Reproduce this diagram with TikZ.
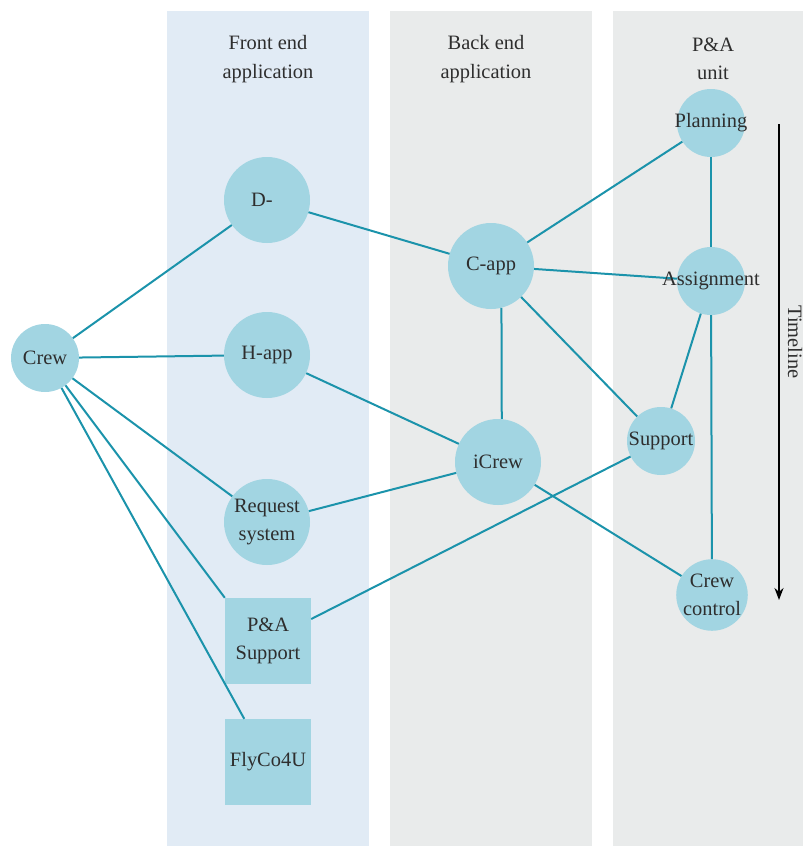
\documentclass[tikz,border=0pt]{standalone}
\usepackage{fontspec}
\setmainfont{Liberation Serif}
\usetikzlibrary{arrows.meta}
\definecolor{frontbg}{HTML}{E1EBF5}
\definecolor{backbg}{HTML}{E9EBEB}
\definecolor{nodefill}{HTML}{A2D5E2}
\definecolor{linkcol}{HTML}{1B93AB}
\definecolor{txt}{HTML}{2E2E2E}
\begin{document}
\begin{tikzpicture}[x=1bp,y=-1bp,
  every node/.style={font=\fontsize{20.5}{28.5}\selectfont, text=txt},
  bignode/.style={circle, fill=nodefill, minimum size=86bp, inner sep=0pt, align=center},
  smallnode/.style={circle, fill=nodefill, minimum size=68bp, inner sep=0pt, align=center},
  boxnode/.style={rectangle, fill=nodefill, minimum width=86bp, minimum height=86bp, inner sep=0pt, align=center},
  header/.style={align=center},
  link/.style={draw=linkcol, line width=2bp}]
\path[use as bounding box] (0,0) rectangle (803,846);
% column backgrounds
\fill[frontbg] (167,11) rectangle (369,846);
\fill[backbg] (390,11) rectangle (592,846);
\fill[backbg] (613,11) rectangle (803,846);
% column headers
\node[header] (hfront) at (268,59) {Front end\\application};
\node[header] (hback) at (486,59) {Back end\\application};
\node[header] (hpa) at (713,59) {P\&A\\unit};
% nodes
\node[smallnode] (crew) at (45,358) {Crew};
\node[bignode] (dapp) at (267,200) {D-\hspace*{10bp}};
\node[bignode] (happ) at (267,355) {H-app};
\node[bignode] (req) at (267,522) {Request\\system};
\node[boxnode] (pasup) at (268,641) {P\&A\\Support};
\node[boxnode] (flyco) at (268,762) {FlyCo4U};
\node[bignode] (capp) at (491,266) {C-app};
\node[bignode] (icrew) at (498,462) {iCrew};
\node[smallnode] (plan) at (711,123) {\makebox[0pt]{Planning}};
\node[smallnode] (assign) at (711,281) {};
\node[smallnode] (support) at (661,441) {\makebox[0pt]{Support}};
\node[smallnode] (crewctl) at (712,595) {Crew\\control};
% connectors
\draw[link] (crew) -- (dapp);
\draw[link] (crew) -- (happ);
\draw[link] (crew) -- (req);
\draw[link] (crew) -- (pasup.north west);
\draw[link] (crew) -- (flyco);
\draw[link] (dapp) -- (capp);
\draw[link] (happ) -- (icrew);
\draw[link] (req) -- (icrew);
\draw[link] (pasup) -- (support);
\draw[link] (capp) -- (plan);
\draw[link] (capp) -- (assign);
\draw[link] (capp.-76) -- (icrew.85);
\draw[link] (capp) -- (support);
\draw[link] (icrew) -- (crewctl);
\draw[link] (plan) -- (assign);
\draw[link] (assign) -- (support);
\draw[link] (assign) -- (crewctl);
% the Assignment label overhangs its circle, so it is set on top of the lines
\node (assigntxt) at (assign) {Assignment};
% timeline
\coordinate (tstart) at (779,124);
\coordinate (tend) at (779,600);
\draw[line width=2bp, -{Stealth[length=12bp,width=9bp]}] (tstart) -- (tend);
\node[rotate=-90, anchor=base, inner sep=0pt] (tlabel) at (788,342) {Timeline};
\end{tikzpicture}
\end{document}
